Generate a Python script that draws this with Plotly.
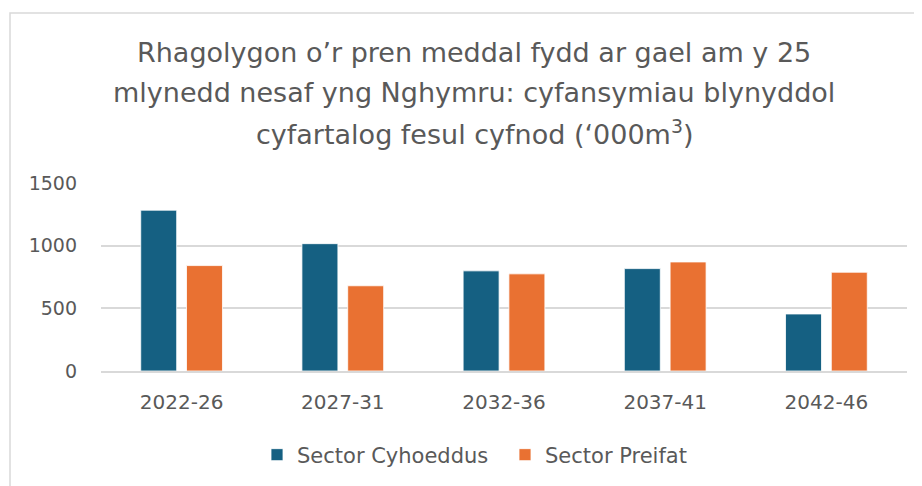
import plotly.graph_objects as go

# ---- data ----
periods = ["2022-26", "2027-31", "2032-36", "2037-41", "2042-46"]
sector_cyhoeddus = [1283, 1016, 799, 817, 455]
sector_preifat = [841, 680, 775, 870, 788]
y_ticks = [0, 500, 1000, 1500]
title_lines = [
    "Rhagolygon o’r pren meddal fydd ar gael am y 25",
    "mlynedd nesaf yng Nghymru: cyfansymiau blynyddol",
    "cyfartalog fesul cyfnod (‘000m<sup>3</sup>)",
]

# page body has an 8px margin, so the figure is drawn 8px in from the top-left
OFF = 8
W, H = 922 - OFF, 486 - OFF
L, R, T, B = 101 - OFF, 15, 183 - OFF, 114
PW, PH = W - L - R, H - T - B

def px_x(x):
    return (x - OFF - L) / PW

def px_y(y):
    return (H - B - (y - OFF)) / PH

FONT = "DejaVu Sans"
GREY = "#595959"

fig = go.Figure()
fig.add_bar(name="Sector Cyhoeddus", x=periods, y=sector_cyhoeddus,
            marker=dict(color="#156082", line=dict(color="#ffffff", width=0.8)))
fig.add_bar(name="Sector Preifat", x=periods, y=sector_preifat,
            marker=dict(color="#E97132", line=dict(color="#ffffff", width=0.8)))

annotations = []
for i, line in enumerate(title_lines):
    annotations.append(dict(
        text=line, xref="paper", yref="paper",
        x=px_x(474), y=px_y(52 + 40 * i),
        xanchor="center", yanchor="middle", showarrow=False,
        font=dict(family=FONT, size=27, color=GREY),
    ))

fig.update_layout(
    width=W, height=H,
    margin=dict(l=L, r=R, t=T, b=B, pad=0),
    paper_bgcolor="white", plot_bgcolor="white",
    barmode="group", bargap=0.432, bargroupgap=0.214,
    font=dict(family=FONT, size=20, color=GREY),
    annotations=annotations,
    showlegend=True,
    legend=dict(orientation="h", x=px_x(505), xanchor="center",
                y=px_y(455), yanchor="middle",
                font=dict(family=FONT, size=21, color=GREY),
                itemwidth=30, entrywidth=203, entrywidthmode="pixels",
                traceorder="normal"),
    shapes=[dict(type="rect", xref="paper", yref="paper",
                 x0=px_x(10), x1=px_x(960), y0=px_y(520), y1=px_y(12),
                 line=dict(color="#d9d9d9", width=1.5), fillcolor="rgba(0,0,0,0)",
                 layer="below")],
)
fig.update_yaxes(range=[0, 1500], tickvals=y_ticks, showgrid=True,
                 gridcolor="#d9d9d9", gridwidth=2, zeroline=False,
                 showline=False, ticks="", ticklabelstandoff=23,
                 tickfont=dict(family=FONT, size=19, color=GREY))
fig.update_xaxes(showline=True, linecolor="#d9d9d9", linewidth=2, ticks="",
                 ticklabelstandoff=12,
                 tickfont=dict(family=FONT, size=20, color=GREY))

fig.write_html("out.html")
